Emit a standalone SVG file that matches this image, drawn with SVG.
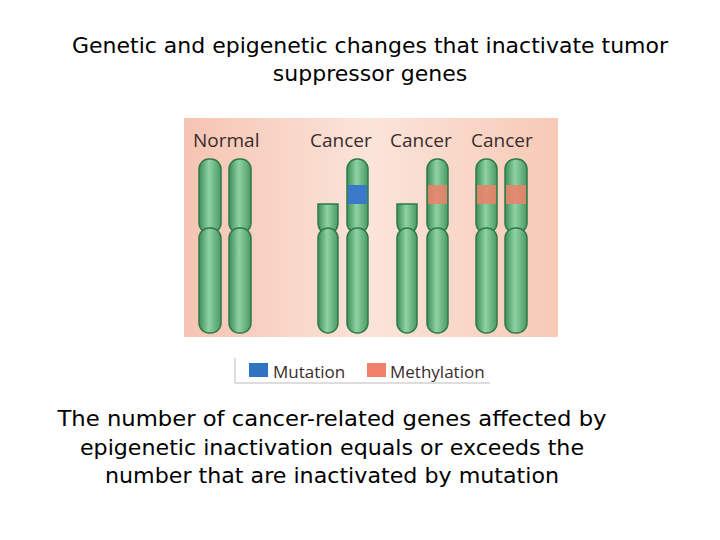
<svg xmlns="http://www.w3.org/2000/svg" width="720" height="540" viewBox="0 0 720 540">
<defs>
<linearGradient id="g" x1="0" x2="1" y1="0" y2="0"><stop offset="0" stop-color="#3d8d58"/><stop offset="0.45" stop-color="#8fd2a4"/><stop offset="1" stop-color="#4a9a62"/></linearGradient>
<linearGradient id="bg" x1="0" x2="1" y1="0" y2="0"><stop offset="0" stop-color="#f6c4b2"/><stop offset="0.5" stop-color="#fbe4da"/><stop offset="1" stop-color="#f7c9b6"/></linearGradient>
<style>
.c{fill:url(#g);stroke:#2f7a48;stroke-width:1.5}
.lb{font-family:"Open Sans",sans-serif;font-size:19px;fill:#3a2c2c}
.t{font-family:"DejaVu Sans",sans-serif;font-size:22px;fill:#000;text-anchor:middle}
.m{fill:#f0806a;opacity:0.85}
</style>
</defs>
<rect width="720" height="540" fill="#fff"/>
<text class="t" x="370" y="53" textLength="596" lengthAdjust="spacingAndGlyphs">Genetic and epigenetic changes that inactivate tumor</text>
<text class="t" x="370" y="81">suppressor genes</text>
<g id="panel">
<rect x="184" y="118" width="374" height="219" fill="url(#bg)"/>
<text class="lb" x="193" y="147">Normal</text>
<text class="lb" x="310" y="147">Cancer</text>
<text class="lb" x="390" y="147">Cancer</text>
<text class="lb" x="471" y="147">Cancer</text>
</g>
<g id="normal">
<rect class="c" x="199" y="159" width="22" height="74" rx="10"/><rect class="c" x="199" y="228" width="22" height="105" rx="10"/>
<rect class="c" x="229" y="159" width="22" height="74" rx="10"/><rect class="c" x="229" y="228" width="22" height="105" rx="10"/>
</g>
<g id="cancer1">
<path class="c" d="M318 204 H338 V222 Q338 233 328 233 Q318 233 318 222 Z"/><rect class="c" x="318" y="228" width="20" height="105" rx="10"/>
<rect class="c" x="347" y="159" width="21" height="74" rx="10"/><rect class="c" x="347" y="228" width="21" height="105" rx="10"/>
<rect x="348" y="185" width="19" height="19" fill="#3a78c8"/>
</g>
<g id="cancer2">
<path class="c" d="M397 204 H417 V222 Q417 233 407 233 Q397 233 397 222 Z"/><rect class="c" x="397" y="228" width="20" height="105" rx="10"/>
<rect class="c" x="427" y="159" width="21" height="74" rx="10"/><rect class="c" x="427" y="228" width="21" height="105" rx="10"/>
<rect class="m" x="428" y="185" width="19" height="19"/>
</g>
<g id="cancer3">
<rect class="c" x="476" y="159" width="21" height="74" rx="10"/><rect class="c" x="476" y="228" width="21" height="105" rx="10"/>
<rect class="c" x="505" y="159" width="22" height="74" rx="10"/><rect class="c" x="505" y="228" width="22" height="105" rx="10"/>
<rect class="m" x="477" y="185" width="19" height="19"/><rect class="m" x="506" y="185" width="20" height="19"/>
</g>
<g id="legend">
<path d="M235 358 V383 H490" fill="none" stroke="#bbb" stroke-width="1"/>
<rect x="249" y="363" width="19" height="14" fill="#2f74c0"/>
<text class="lb" x="273" y="378" style="font-size:17px">Mutation</text>
<rect x="367" y="363" width="19" height="14" fill="#f0806a"/>
<text class="lb" x="390" y="378" style="font-size:17px">Methylation</text>
</g>
<g id="connectors"/>
<text class="t" x="332" y="426" textLength="549" lengthAdjust="spacingAndGlyphs">The number of cancer-related genes affected by</text>
<text class="t" x="332" y="455" textLength="504" lengthAdjust="spacingAndGlyphs">epigenetic inactivation equals or exceeds the</text>
<text class="t" x="332" y="483" textLength="454" lengthAdjust="spacingAndGlyphs">number that are inactivated by mutation</text>
</svg>
